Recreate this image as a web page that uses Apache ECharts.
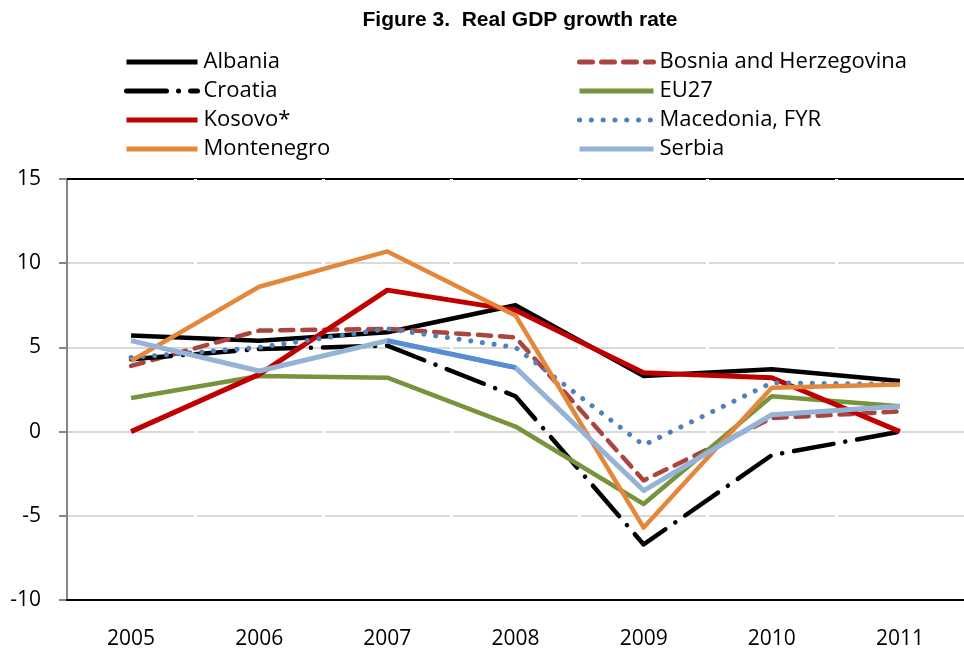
<!DOCTYPE html>
<html>
<head>
<meta charset="utf-8">
<script src="https://cdn.jsdelivr.net/npm/echarts@6/dist/echarts.min.js"></script>
<style>html,body{margin:0;padding:0;background:#fff}#c{width:964px;height:650px}</style>
</head>
<body>
<div id="c"></div>
<script>
const years = ['2005','2006','2007','2008','2009','2010','2011'];
const albania    = [5.7, 5.4, 5.9, 7.5, 3.3, 3.7, 3.0];
const bosnia     = [3.9, 6.0, 6.1, 5.6, -2.9, 0.8, 1.2];
const croatia    = [4.3, 4.9, 5.1, 2.1, -6.7, -1.4, 0.0];
const eu27       = [2.0, 3.3, 3.2, 0.3, -4.3, 2.1, 1.5];
const kosovo     = [0.0, 3.4, 8.4, 7.2, 3.5, 3.2, 0.0];
const macedonia  = [4.4, 5.0, 6.1, 5.0, -0.8, 2.9, 2.8];
const montenegro = [4.2, 8.6, 10.7, 6.9, -5.7, 2.6, 2.8];
const serbia     = [5.4, 3.6, 5.4, 3.8, -3.5, 1.0, 1.5];
const serbiaHighlightYears = ['2007','2008'];
const yTicks = {min: -10, max: 15, step: 5};

const FONT = 'Open Sans';
const chart = echarts.init(document.getElementById('c'), null, {renderer: 'canvas'});

function line(name, data, color, width, type, cap) {
  return {
    name, type: 'line', data, symbol: 'none', smooth: false,
    lineStyle: {color, width, type: type || 'solid', cap: cap || 'butt', join: 'round'},
    itemStyle: {color},
    emphasis: {disabled: true}, animation: false
  };
}

const serbiaSeg = serbia.map((v, i) => serbiaHighlightYears.includes(years[i]) ? v : null);

const series = [
  line('Albania', albania, '#000000', 4.5),
  line('Bosnia and Herzegovina', bosnia, '#A9443F', 4.5, [13, 9], 'round'),
  line('Croatia', croatia, '#000000', 4.5, [40, 12, 0.1, 12], 'round'),
  line('EU27', eu27, '#77933C', 4.5),
  line('Kosovo*', kosovo, '#C00000', 5),
  line('Macedonia, FYR', macedonia, '#4F81BD', 5, [0.1, 11.7], 'round'),
  line('Montenegro', montenegro, '#E3873B', 4.5),
  line('Serbia', serbia, '#95B3D7', 5),
  line('Serbia ', serbiaSeg, '#558ED5', 5)
];

const legendText = {fontFamily: FONT, fontSize: 22, color: '#000', lineHeight: 22, padding: [0, 0, 0, 1]};
const legendCommon = {
  orient: 'vertical', top: 51, padding: 0, itemHeight: 14, itemGap: 7,
  textStyle: legendText, selectedMode: false,
  itemStyle: {color: 'rgba(0,0,0,0)', borderColor: 'rgba(0,0,0,0)', borderWidth: 0, opacity: 0},
  lineStyle: {width: 5}
};
const option = {
  backgroundColor: '#fff',
  animation: false,
  title: {
    text: 'Figure 3.  Real GDP growth rate',
    left: 515, top: 5, textAlign: 'center',
    textStyle: {fontFamily: 'Liberation Sans', fontWeight: 'bold', fontSize: 21, color: '#000'}
  },
  legend: [
    Object.assign({data: ['Albania', 'Croatia', 'Kosovo*', 'Montenegro'], left: 124, itemWidth: 71}, legendCommon),
    Object.assign({data: ['Bosnia and Herzegovina', 'EU27', 'Macedonia, FYR', 'Serbia'], left: 577, itemWidth: 74}, legendCommon)
  ],
  grid: {left: 67, right: -7, top: 179, bottom: 50, containLabel: false},
  xAxis: [
    {type: 'category', data: years, boundaryGap: true, z: 1,
     axisLine: {show: true, onZero: false, lineStyle: {color: '#000', width: 2}},
     axisTick: {show: false},
     axisLabel: {fontFamily: FONT, fontSize: 21, color: '#000', margin: 29},
     splitLine: {show: true, interval: 0, showMinLine: false, showMaxLine: false, lineStyle: {color: '#fff', width: 3}}},
    {type: 'category', data: years, position: 'top', boundaryGap: true,
     axisLine: {show: true, onZero: false, lineStyle: {color: '#000', width: 2}},
     axisTick: {show: false}, axisLabel: {show: false}, splitLine: {show: false}}
  ],
  yAxis: {
    type: 'value', min: yTicks.min, max: yTicks.max, interval: yTicks.step, z: 0,
    axisLine: {show: true, onZero: false, lineStyle: {color: '#868686', width: 2}},
    axisTick: {show: true, length: 8, lineStyle: {color: '#868686', width: 2}},
    axisLabel: {fontFamily: FONT, fontSize: 21, color: '#000', margin: 26},
    splitLine: {show: true, lineStyle: {color: '#D9D9D9', width: 2}}
  },
  series
};
chart.setOption(option);
</script>
</body>
</html>
